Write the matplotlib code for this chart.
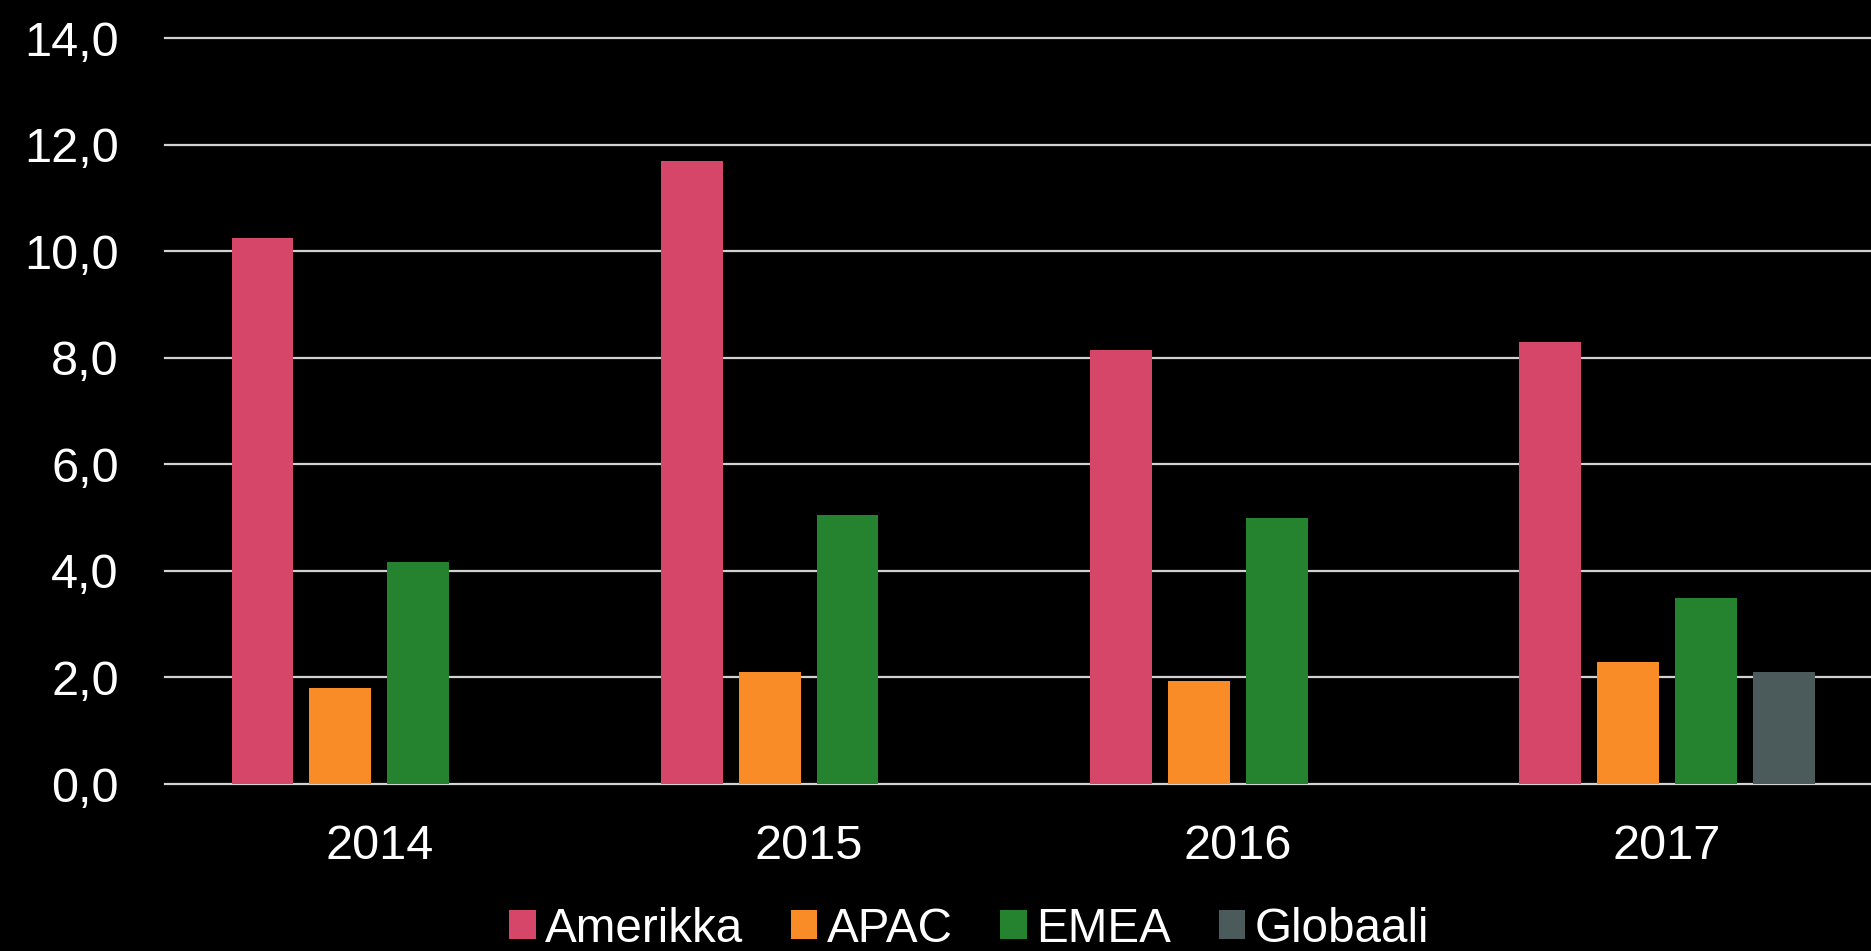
import matplotlib
matplotlib.use("Agg")
import matplotlib.pyplot as plt
import numpy as np

plt.rcParams['font.family'] = ['Liberation Sans', 'DejaVu Sans']

years = ["2014", "2015", "2016", "2017"]
series_names = ["Amerikka", "APAC", "EMEA", "Globaali"]
amerikka = [10.25, 11.70, 8.14, 8.29]
apac = [1.80, 2.10, 1.94, 2.29]
emea = [4.16, 5.05, 4.99, 3.49]
globaali = [None, None, None, 2.11]
colors = ["#D64669", "#FA8C28", "#25822F", "#4B5A5A"]
yticks = [0, 2, 4, 6, 8, 10, 12, 14]
ytick_labels = ["0,0", "2,0", "4,0", "6,0", "8,0", "10,0", "12,0", "14,0"]

fig = plt.figure(figsize=(18.71, 9.51), dpi=100, facecolor="black")
ax = fig.add_axes([0.088, 0.1756, 0.912, 0.7844], facecolor="black")

x = np.arange(len(years))
width = 0.144
step = 0.1815
all_series = [amerikka, apac, emea, globaali]
for i, (name, vals, c) in enumerate(zip(series_names, all_series, colors)):
    xs = [xi + (i - 1.5) * step for xi, v in zip(x, vals) if v is not None]
    ys = [v for v in vals if v is not None]
    ax.bar(xs, ys, width=width, color=c, label=name, zorder=3)

ax.set_xlim(-0.5, 3.475)
ax.set_ylim(0, 14)
ax.set_yticks(yticks)
ax.set_yticklabels(ytick_labels)
ax.set_xticks(x)
ax.set_xticklabels(years)
ax.grid(axis="y", color="#d2d2d2", linewidth=1.6, zorder=1)
for gl in ax.get_ygridlines():
    gl.set_clip_on(False)
ax.set_axisbelow(True)
for s in ax.spines.values():
    s.set_visible(False)
ax.tick_params(axis="both", length=0, colors="white", labelsize=35)
ax.tick_params(axis="y", pad=33)
ax.tick_params(axis="x", pad=29)

leg = fig.legend(loc="center", bbox_to_anchor=(0.518, 1 - 929 / 951), ncol=4,
                 frameon=False, fontsize=34.3, handlelength=0.55, handleheight=0.55,
                 handletextpad=0.2, columnspacing=1.0, borderaxespad=0, borderpad=0)
for t in leg.get_texts():
    t.set_color("white")

fig.savefig("out.png", dpi=100, facecolor="black")
